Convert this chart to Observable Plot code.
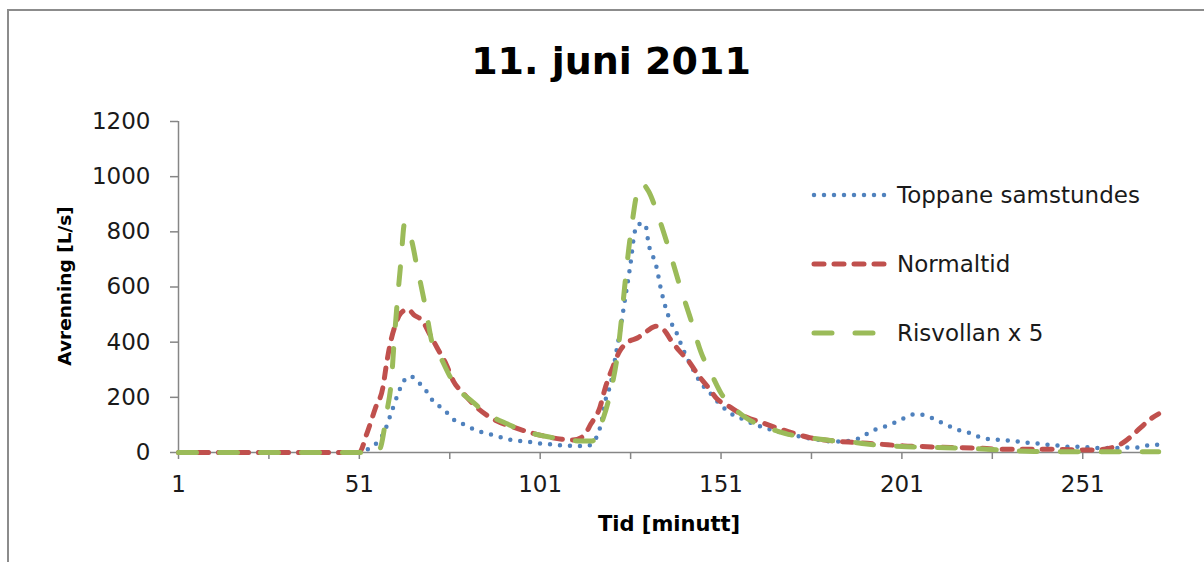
<!DOCTYPE html>
<html>
<head>
<meta charset="utf-8">
<script src="https://cdn.jsdelivr.net/npm/d3@7"></script>
<script src="https://cdn.jsdelivr.net/npm/@observablehq/plot@0.6"></script>
<style>
  html, body { margin: 0; padding: 0; background: #fff; overflow: hidden; }
  #chart { position: relative; width: 1204px; height: 562px; overflow: hidden; font-family: "DejaVu Sans", sans-serif; color: #1a1a1a; }
  #frame { position: absolute; left: 7px; top: 9px; width: 1400px; height: 700px; border: 2px solid #8c8c8c; }
  #title { position: absolute; left: 411px; width: 400px; top: 42px; text-align: center; font-size: 38px; line-height: 38px; font-weight: bold; color: #000; }
  #plot { position: absolute; left: 0; top: 100px; }
  #xlabel { position: absolute; left: 469px; width: 400px; top: 514px; text-align: center; font-size: 21px; line-height: 21px; font-weight: bold; color: #000; }
  #ylabel { position: absolute; left: -135px; width: 400px; top: 276px; text-align: center; font-size: 18.5px; line-height: 20px; font-weight: bold; color: #000; transform: rotate(-90deg); }
  .leg { position: absolute; left: 811px; height: 24px; display: flex; align-items: center; font-size: 23px; line-height: 24px; white-space: nowrap; }
  .leg svg { margin-right: 6px; }
</style>
</head>
<body>
<div id="chart">
  <div id="frame"></div>
  <div id="title"></div>
  <div id="plot"></div>
  <div id="xlabel"></div>
  <div id="ylabel"></div>
</div>
<script>
// ---- texts ----
const titleText = "11. juni 2011";
const xTitle = "Tid [minutt]";
const yTitle = "Avrenning [L/s]";
const seriesNames = ["Toppane samstundes", "Normaltid", "Risvollan x 5"];
const seriesColors = ["#4F81BD", "#C0504D", "#9BBB59"];

// ---- ticks ----
const xTicks = [1, 26, 51, 76, 101, 126, 151, 176, 201, 226, 251];
const xTickLabels = [1, 51, 101, 151, 201, 251];
const yTicks = [0, 200, 400, 600, 800, 1000, 1200];

// ---- series: Toppane samstundes ----
const blueT = [
  1, 51, 52, 55, 58, 60, 62, 63, 65, 67.5,
  69.5, 71, 73, 75.5, 77.5, 80.5, 83, 86, 89, 92,
  95, 98, 101, 104, 107, 110, 114, 116.5, 118, 119,
  120.5, 122, 123, 124.5, 126, 127, 128, 130, 131, 133,
  134.5, 137, 138.5, 140.5, 142.5, 145.5, 148, 150, 154, 157,
  160, 163, 166, 169, 172, 175, 178, 181.5, 185, 187.5,
  190, 192.5, 195.5, 198.5, 201.5, 204.5, 208, 210.5, 213.5, 216.5,
  219.5, 222, 225.5, 229, 232, 235, 238, 241, 244, 247,
  250, 253, 256, 260, 263, 266, 269, 272
];
const blueV = [
  0, 0, 6, 24, 78, 151, 223, 253, 277, 253,
  223, 193, 169, 141, 115, 99, 81, 70, 60, 48,
  42, 38, 33, 30, 26, 24, 24, 54, 115, 187,
  250, 362, 434, 560, 687, 790, 828, 828, 754, 681,
  585, 476, 440, 374, 320, 250, 215, 185, 139, 121,
  103, 90, 78, 68, 60, 52, 46, 40, 40, 45,
  56, 78, 90, 105, 124, 139, 133, 117, 99, 82,
  72, 58, 48, 45, 42, 36, 33, 28, 25, 21,
  21, 18, 16, 16, 18, 18, 26, 28
];

// ---- series: Normaltid ----
const redT = [
  1, 51, 53, 55.5, 57.5, 58.5, 59.5, 61, 62.5, 64.5,
  66, 68.5, 70.5, 72.5, 75, 77, 80, 83.5, 88, 94,
  100, 107, 110, 113, 115, 117.5, 119, 121, 123, 125,
  128, 130.5, 133, 135.5, 137, 139.5, 142, 144.5, 147.5, 150,
  153, 157, 163, 169, 175.5, 182, 188.5, 195, 201.5, 208,
  214.5, 222, 228, 235, 241, 247.5, 254, 258.5, 261.5, 264,
  267, 270, 272
];
const redV = [
  0, 0, 66, 163, 235, 320, 392, 464, 506, 519,
  500, 476, 428, 380, 320, 259, 211, 163, 121, 90,
  66, 48, 45, 60, 103, 163, 235, 307, 368, 398,
  416, 440, 458, 440, 410, 368, 332, 284, 235, 193,
  169, 135, 105, 78, 54, 42, 36, 30, 24, 21,
  18, 16, 12, 12, 12, 10, 9, 16, 30, 54,
  90, 124, 140
];

// ---- series: Risvollan x 5 ----
const greenT = [
  1, 56, 57, 58.5, 60, 60.5, 61.5, 62.5, 63.5, 65.5,
  67, 68, 69.5, 71, 73.5, 76, 78, 82, 86.5, 92,
  96.5, 102, 107.5, 112, 115.5, 117, 118.5, 120.5, 122.5, 123.5,
  124.5, 125.5, 126.5, 127.5, 129, 131, 133.5, 136.5, 139.5, 142.5,
  145.5, 148.5, 151, 153, 155.5, 158, 162, 166, 170, 175,
  178.5, 182.5, 186, 190, 194, 202.5, 210, 216.5, 224.5, 232,
  237.5, 250, 272
];
const greenV = [
  0, 0, 24, 139, 283, 380, 549, 693, 830, 766,
  669, 609, 512, 404, 344, 277, 235, 187, 139, 103,
  78, 60, 48, 42, 42, 80, 127, 223, 368, 488,
  620, 740, 840, 925, 975, 946, 862, 741, 609, 488,
  362, 280, 215, 180, 150, 125, 97, 80, 65, 54,
  48, 42, 39, 33, 27, 21, 18, 16, 12, 6,
  4, 3, 3
];

// ---- styles per series ----
const seriesDash = ["0,10", "10,10", "18,23"];
const seriesWidth = [4.5, 5, 5];

const seriesT = [blueT, redT, greenT];
const seriesV = [blueV, redV, greenV];

document.getElementById("title").textContent = titleText;
document.getElementById("xlabel").textContent = xTitle;
document.getElementById("ylabel").textContent = yTitle;

const lineMarks = seriesT.map((ts, k) =>
  Plot.line(ts.map((t, i) => ({t, v: seriesV[k][i]})), {
    x: "t", y: "v",
    curve: "monotone-x",
    stroke: seriesColors[k],
    strokeWidth: seriesWidth[k],
    strokeDasharray: seriesDash[k],
    strokeLinecap: "round",
    strokeLinejoin: "round"
  })
);

const chart = Plot.plot({
  width: 1204,
  height: 462,
  marginLeft: 178,
  marginRight: 44,
  marginTop: 21,
  marginBottom: 110,
  style: {fontFamily: "DejaVu Sans", fontSize: "23px", background: "transparent", color: "#1a1a1a", overflow: "visible"},
  x: {domain: [1, 272.5]},
  y: {domain: [0, 1200]},
  marks: [
    Plot.ruleY([0], {x1: 1, x2: 272.5, stroke: "#868686", strokeWidth: 1.5}),
    Plot.ruleX([1], {y1: 0, y2: 1200, stroke: "#868686", strokeWidth: 1.5}),
    Plot.axisX(xTicks, {tickSize: 7, tickPadding: 16, stroke: "#868686", strokeWidth: 1.5, fill: "#1a1a1a", fontSize: 23,
      tickFormat: d => xTickLabels.includes(d) ? String(d) : "", label: null}),
    Plot.axisY(yTicks, {tickSize: 8, tickPadding: 20, stroke: "#868686", strokeWidth: 1.5, fill: "#1a1a1a", fontSize: 23,
      tickFormat: d => String(d), label: null}),
    ...lineMarks
  ]
});
document.getElementById("plot").appendChild(chart);

// ---- legend ----
const legendTop = [183, 252, 321];
const chartDiv = document.getElementById("chart");
seriesNames.forEach((name, k) => {
  const row = document.createElement("div");
  row.className = "leg";
  row.style.top = legendTop[k] + "px";
  const ns = "http://www.w3.org/2000/svg";
  const svg = document.createElementNS(ns, "svg");
  svg.setAttribute("width", 80);
  svg.setAttribute("height", 24);
  const ln = document.createElementNS(ns, "line");
  ln.setAttribute("x1", 3); ln.setAttribute("x2", 78);
  ln.setAttribute("y1", 12); ln.setAttribute("y2", 12);
  ln.setAttribute("stroke", seriesColors[k]);
  ln.setAttribute("stroke-width", seriesWidth[k]);
  ln.setAttribute("stroke-dasharray", seriesDash[k]);
  ln.setAttribute("stroke-linecap", "round");
  svg.appendChild(ln);
  const span = document.createElement("span");
  span.textContent = name;
  row.appendChild(svg);
  row.appendChild(span);
  chartDiv.appendChild(row);
});
</script>
</body>
</html>
